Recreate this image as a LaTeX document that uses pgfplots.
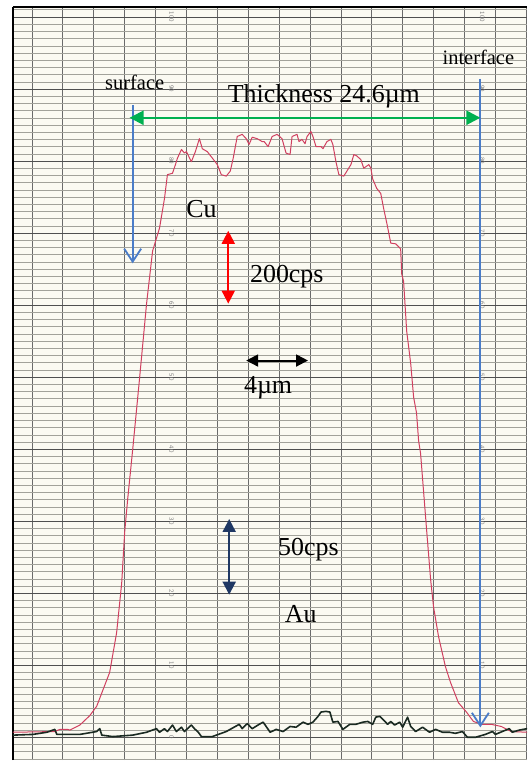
\documentclass[border=0pt]{standalone}
\usepackage{pgfplots}
\pgfplotsset{compat=1.18}
\usetikzlibrary{arrows.meta}
\usepackage{fontspec}
\setmainfont{Liberation Serif}

\definecolor{paper}{HTML}{FBFAF2}
\definecolor{gridmaj}{HTML}{505050}
\definecolor{gridmin}{HTML}{A2A29A}
\definecolor{curvered}{HTML}{D04060}
\definecolor{curveblk}{HTML}{1A2A22}
\definecolor{arrblue}{HTML}{4A7CC8}
\definecolor{arrgreen}{HTML}{00B050}
\definecolor{arrnavy}{HTML}{1F3864}

\pgfplotstableread{
x y
-1.23 0.7
1.48 0.8
1.81 1.1
2.32 1.1
2.45 1.0
3.10 1.7
3.74 3.0
4.19 4.3
5.03 9.0
5.48 14.5
5.81 21.4
6.00 28.4
6.19 32.9
6.52 39.9
6.97 49.9
7.42 60.2
7.81 67.5
8.26 70.7
8.58 74.8
8.77 78.1
9.10 78.3
9.29 79.5
9.42 80.4
9.68 81.6
9.87 81.1
10.00 81.3
10.32 79.9
10.58 81.3
10.84 83.1
11.03 81.7
11.35 81.3
11.68 80.4
12.00 79.5
12.26 78.1
12.58 77.9
12.84 78.6
13.03 80.4
13.29 83.4
13.61 83.7
13.87 83.1
14.06 82.3
14.26 83.3
14.58 83.1
14.90 82.7
15.03 82.7
15.29 82.0
15.55 83.4
15.87 83.7
16.19 83.1
16.45 81.1
16.71 80.9
16.84 83.4
17.16 83.7
17.29 82.7
17.48 83.0
17.68 82.4
17.81 83.4
18.06 84.1
18.19 83.4
18.39 82.0
18.71 82.0
18.84 81.7
19.10 82.7
19.35 83.0
19.48 82.3
19.68 79.9
19.87 78.1
20.19 77.9
20.39 78.6
20.65 79.5
20.84 80.9
21.03 80.7
21.29 80.2
21.48 79.0
21.81 79.5
21.94 79.0
22.06 77.5
22.32 76.2
22.58 75.5
22.77 73.4
22.97 71.4
23.23 68.6
23.55 68.5
23.87 67.8
23.94 64.3
24.06 63.3
24.26 56.4
24.52 51.9
24.71 47.2
24.90 45.0
25.03 41.2
25.16 39.4
25.55 28.8
25.81 21.9
26.00 18.1
26.32 14.0
26.77 9.8
27.10 7.6
27.61 4.8
28.13 3.5
28.58 2.2
29.10 1.8
29.74 1.8
30.39 1.5
31.03 0.8
32.06 0.7
}\cudata

\pgfplotstableread{
x y
-1.23 0.3
0.06 0.4
0.97 0.7
1.48 1.1
1.61 0.4
2.26 0.4
3.10 0.4
4.19 0.8
4.39 1.2
4.52 0.3
5.23 0.1
6.52 0.3
7.42 0.7
8.06 1.2
8.26 0.7
8.58 1.2
8.77 0.8
9.10 1.7
9.35 0.8
9.68 1.4
9.87 0.8
10.32 1.7
10.52 1.2
10.77 0.7
10.97 0.1
11.68 0.1
12.58 0.8
13.42 1.8
13.61 1.2
13.94 1.9
14.26 1.2
14.71 1.8
14.97 2.1
15.42 0.7
15.81 1.1
16.26 0.8
16.71 1.5
17.10 1.4
17.55 2.1
17.87 1.8
18.19 2.1
18.52 2.9
18.71 3.5
19.03 3.6
19.29 3.5
19.48 2.1
19.81 2.2
20.13 1.1
20.58 1.8
20.97 1.8
21.42 2.1
21.74 2.2
22.06 1.8
22.26 2.8
22.52 2.9
22.71 2.5
23.03 1.8
23.23 2.2
23.48 1.7
23.81 2.1
24.00 1.4
24.32 2.8
24.52 1.5
24.84 0.8
25.29 1.4
25.74 0.7
26.13 1.1
26.58 0.7
27.03 0.7
27.42 0.55
27.87 0.8
28.19 0.0
28.71 0.0
29.35 0.4
29.81 0.8
30.00 0.4
30.45 0.8
30.90 1.2
31.10 0.7
31.55 1.0
32.06 1.2
}\audata

\begin{document}
\begin{tikzpicture}
\begin{axis}[
    width=516pt, height=756pt, scale only axis,
    xmin=-1.23, xmax=32.06,
    ymin=-3.18, ymax=101.4,
    axis background/.style={fill=paper},
    axis x line*=top, axis y line*=left,
    axis line style={black, line width=1.6pt},
    xtick={0,2,...,32}, ytick={0,10,...,100},
    minor ytick={-3,-2,...,101},
    xticklabels={}, yticklabels={},
    major tick length=0pt, minor tick length=0pt,
    grid=both,
    major grid style={gridmaj, line width=0.8pt},
    minor grid style={gridmin, line width=0.45pt},
    x grid style={gridmaj!85, line width=0.7pt},
]
% chart paper scale numbers
\pgfplotsinvokeforeach{0,10,...,100}{
  \node[rotate=-90, text=gray, font=\sffamily\fontsize{6.5}{7}\selectfont] at (axis cs:9.03,#1) {#1};
  \node[rotate=-90, text=gray, font=\sffamily\fontsize{6.5}{7}\selectfont] at (axis cs:29.16,#1) {#1};
}

\addplot[curvered, line width=1.0pt, line join=round] table {\cudata};
\addplot[curveblk, line width=1.6pt, line join=round] table {\audata};

% surface / interface markers
\draw[arrblue, line width=1.8pt, -{Straight Barb[width=17pt,length=13pt]}]
    (axis cs:6.52,87.8) -- (axis cs:6.52,65.8);
\draw[arrblue, line width=1.8pt, -{Straight Barb[width=17pt,length=13pt]}]
    (axis cs:29.03,91.4) -- (axis cs:29.03,1.38);
\draw[arrgreen, line width=2.4pt, {Triangle[width=14pt,length=14pt]}-{Triangle[width=14pt,length=14pt]}]
    (axis cs:6.32,86.0) -- (axis cs:29.03,86.0);

\draw[red, line width=2pt, {Triangle[width=13pt,length=13pt]}-{Triangle[width=13pt,length=13pt]}]
    (axis cs:12.71,70.3) -- (axis cs:12.71,60.2);
\draw[black, line width=2pt, {Triangle[width=12pt,length=12pt]}-{Triangle[width=12pt,length=12pt]}]
    (axis cs:13.87,52.3) -- (axis cs:17.87,52.3);
\draw[arrnavy, line width=2pt, {Triangle[width=13pt,length=13pt]}-{Triangle[width=13pt,length=13pt]}]
    (axis cs:12.77,30.3) -- (axis cs:12.77,19.8);

\node[anchor=base, font=\fontsize{20.5}{23}\selectfont] at (axis cs:6.65,89.9) {surface};
\node[anchor=base, font=\fontsize{20.5}{23}\selectfont] at (axis cs:28.9,93.4) {interface};
\node[anchor=base, font=\fontsize{26}{29}\selectfont] at (axis cs:18.9,88.1) {Thickness 24.6µm};
\node[anchor=base, font=\fontsize{26}{29}\selectfont] at (axis cs:10.97,72.2) {Cu};
\node[anchor=base, font=\fontsize{26}{29}\selectfont] at (axis cs:16.5,63.2) {200cps};
\node[anchor=base, font=\fontsize{26}{29}\selectfont] at (axis cs:15.29,47.7) {4µm};
\node[anchor=base, font=\fontsize{26}{29}\selectfont] at (axis cs:17.9,25.3) {50cps};
\node[anchor=base, font=\fontsize{26}{29}\selectfont] at (axis cs:17.4,16.0) {Au};
\end{axis}
\path (current axis.south west) ++(-13pt,0pt);
\path (current axis.north east) ++(0pt,5pt);
\end{tikzpicture}
\end{document}
